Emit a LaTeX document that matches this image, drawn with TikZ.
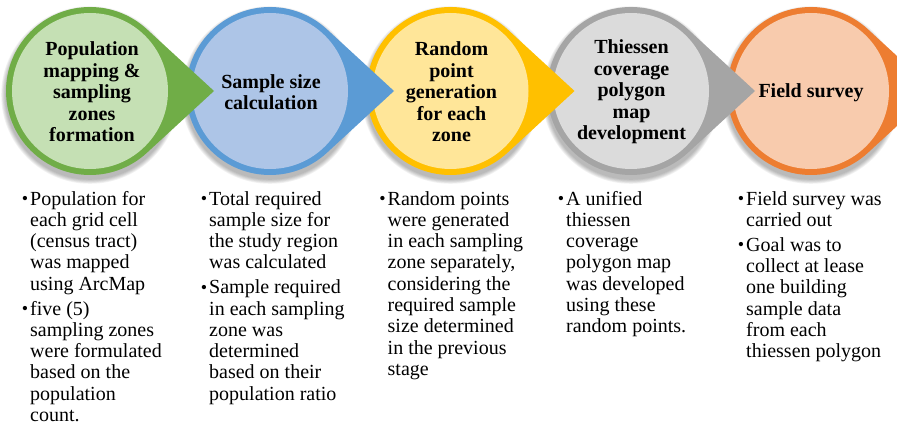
\documentclass[tikz,border=0pt]{standalone}
\usepackage{fontspec}
\setmainfont{Liberation Serif}
\definecolor{gB}{HTML}{70AD47}\definecolor{gF}{HTML}{C5E0B4}
\definecolor{bB}{HTML}{5B9BD5}\definecolor{bF}{HTML}{ADC5E7}
\definecolor{yB}{HTML}{FFC000}\definecolor{yF}{HTML}{FFE699}
\definecolor{aB}{HTML}{A5A5A5}\definecolor{aF}{HTML}{DBDBDB}
\definecolor{oB}{HTML}{ED7D31}\definecolor{oF}{HTML}{F8CBAD}
\newcommand{\sbul}{\llap{\raisebox{0.5pt}{\fontsize{18}{18}\selectfont\textbullet}\hspace{2pt}}}
\tikzset{
  title/.style={font=\fontsize{20}{21.5}\selectfont\bfseries, align=center, inner sep=0pt},
  body/.style={font=\fontsize{20}{21.3}\selectfont, inner sep=0pt, anchor=base west},
}
\begin{document}
\begin{tikzpicture}[x=1pt,y=-1pt]
\useasboundingbox (0,0) rectangle (897,425);
\def\R{84}
\foreach \cx/\bc/\fc in {811/oB/oF, 631/aB/aF, 450.5/yB/yF, 270/bB/bF, 90/gB/gF}{
  \foreach \i in {1,...,6}{
    \fill[black, opacity=0.05] (\cx,95) circle (\R+\i*0.8);
  }
  \fill[\bc] (\cx+124,91) -- ([shift={(\cx,91)}]47.4:\R) arc[start angle=47.4, end angle=312.6, radius=\R] -- cycle;
  \fill[\fc] (\cx,91) circle (78);
}
\node[title] (s1) at (92,92) {Population\\mapping \&\\sampling\\zones\\formation};
\node[title] (s2) at (271,92) {Sample size\\calculation};
\node[title] (s3) at (451.5,92) {Random\\point\\generation\\for each\\zone};
\node[title] (s4) at (631.5,92) {Thiessen\\coverage\\polygon\\map\\development};
\node[title] (s5) at (811,93) {Field survey};

\node[body] (t1) at (30,205) {\begin{tabular}[t]{@{}l@{}}\sbul Population for\\each grid cell\\(census tract)\\was mapped\\using ArcMap\\[3.5pt]\sbul five (5)\\sampling zones\\were formulated\\based on the\\population\\count.\end{tabular}};
\node[body] (t2) at (209,205) {\begin{tabular}[t]{@{}l@{}}\sbul Total required\\sample size for\\the study region\\was calculated\\[3.5pt]\sbul Sample required\\in each sampling\\zone was\\determined\\based on their\\population ratio\end{tabular}};
\node[body] (t3) at (387.5,205) {\begin{tabular}[t]{@{}l@{}}\sbul Random points\\were generated\\in each sampling\\zone separately,\\considering the\\required sample\\size determined\\in the previous\\stage\end{tabular}};
\node[body] (t4) at (566,205) {\begin{tabular}[t]{@{}l@{}}\sbul A unified\\thiessen\\coverage\\polygon map\\was developed\\using these\\random points.\end{tabular}};
\node[body] (t5) at (746,205) {\begin{tabular}[t]{@{}l@{}}\sbul Field survey was\\carried out\\[3.5pt]\sbul Goal was to\\collect at lease\\one building\\sample data\\from each\\thiessen polygon\end{tabular}};
\end{tikzpicture}
\end{document}
